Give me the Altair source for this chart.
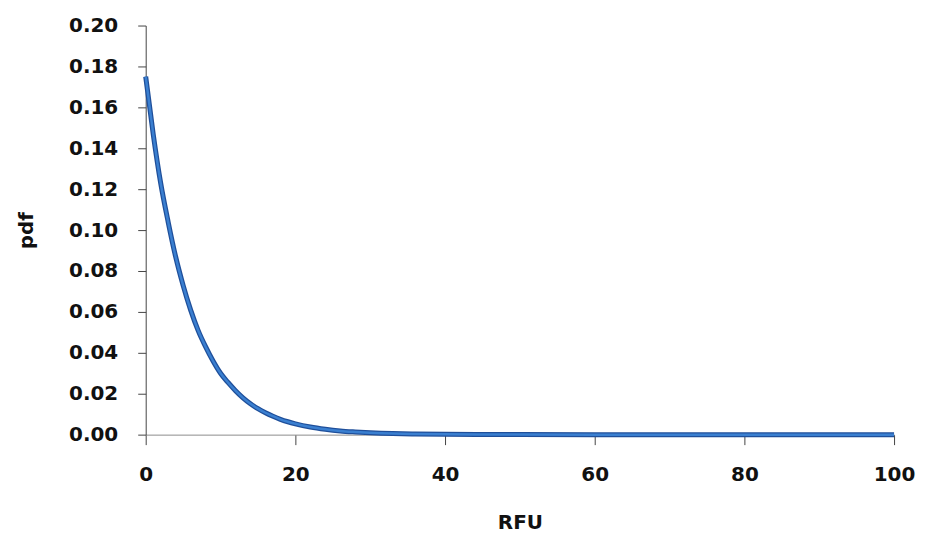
import altair as alt
import pandas as pd

rfu = [0, 1, 2, 3, 4, 5, 6, 7, 8, 9, 10, 11, 12, 13, 14, 15, 16, 17, 18, 19, 20,
       22, 24, 26, 28, 30, 33, 36, 40, 45, 50, 60, 70, 80, 90, 100]
pdf = [0.175, 0.147, 0.123, 0.104, 0.087, 0.073, 0.061, 0.051, 0.043, 0.036, 0.030,
       0.0255, 0.0215, 0.018, 0.0151, 0.0127, 0.0107, 0.009, 0.0075, 0.0063, 0.0053,
       0.0037, 0.0026, 0.0018, 0.0013, 0.0009, 0.0005, 0.0003, 0.00015, 0.00007, 0.00003,
       0.0, 0.0, 0.0, 0.0, 0.0]

x_ticks = [0, 20, 40, 60, 80, 100]
y_ticks = [0.00, 0.02, 0.04, 0.06, 0.08, 0.10, 0.12, 0.14, 0.16, 0.18, 0.20]

df = pd.DataFrame({"RFU": rfu, "pdf": pdf})

FONT = "DejaVu Sans"

base = alt.Chart(df)

line_outer = base.mark_line(color="#1f4f9a", strokeWidth=5, interpolate="monotone").encode(
    x=alt.X("RFU:Q", scale=alt.Scale(domain=[0, 100], nice=False),
            axis=alt.Axis(values=x_ticks, title="RFU", format="d", grid=False,
                          labelFlush=False,
                          domainColor="#8c8c8c", tickColor="#444444", tickSize=10,
                          labelFont=FONT, labelFontSize=20, labelFontWeight="bold",
                          labelColor="#111111", labelPadding=20,
                          titleFont=FONT, titleFontSize=20, titleFontWeight="bold",
                          titleColor="#111111", titlePadding=28)),
    y=alt.Y("pdf:Q", scale=alt.Scale(domain=[0, 0.2], nice=False),
            axis=alt.Axis(values=y_ticks, title="pdf", format=".2f", grid=False,
                          labelFlush=False,
                          domainColor="#444444", tickColor="#444444", tickSize=8,
                          labelFont=FONT, labelFontSize=20, labelFontWeight="bold",
                          labelColor="#111111", labelPadding=20,
                          titleFont=FONT, titleFontSize=20, titleFontWeight="bold",
                          titleColor="#111111", titlePadding=32)),
)
line_inner = base.mark_line(color="#3a7fd0", strokeWidth=2.5, interpolate="monotone").encode(
    x="RFU:Q", y="pdf:Q"
)

chart = (line_outer + line_inner).properties(
    width=750, height=410,
    background="white",
    autosize=alt.AutoSizeParams(type="none"),
    padding={"left": 138, "top": 17, "right": 24, "bottom": 98},
).configure_view(stroke="transparent", strokeWidth=0)

chart.save("out.html", embed_options={"renderer": "svg", "actions": False})
